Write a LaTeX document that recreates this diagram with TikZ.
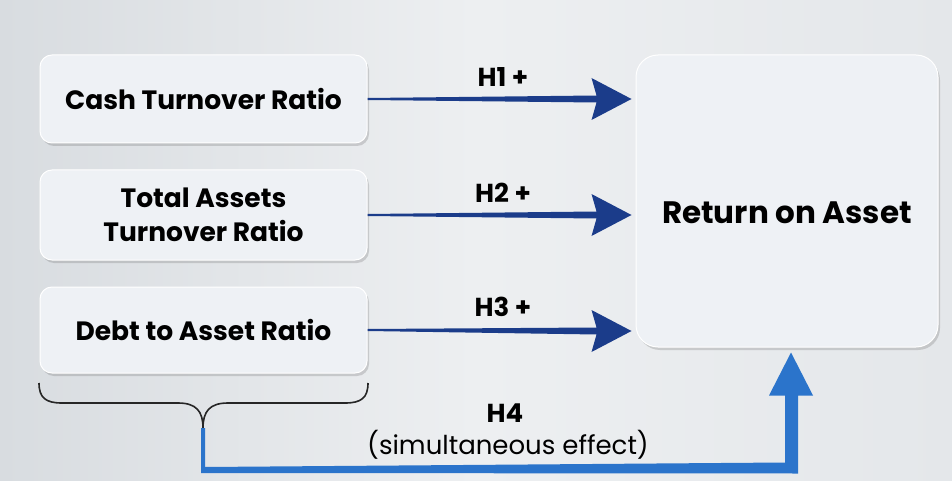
\documentclass[tikz,border=0pt]{standalone}
\usepackage{fontspec}
\setmainfont{Poppins}
\usetikzlibrary{calc,shadows}
\definecolor{navyA}{HTML}{1B3C8A}
\definecolor{blueB}{HTML}{2B74CB}
\definecolor{boxfill}{HTML}{EEF1F5}
\definecolor{bgL}{HTML}{D8DCE0}
\definecolor{bgM}{HTML}{EDEFF1}
\definecolor{bgR}{HTML}{E4E7EA}
\tikzset{
  leftbox/.style={draw=white, line width=1pt, fill=boxfill, rounded corners=12pt,
    minimum width=327pt, align=center, font=\bfseries\fontsize{26.5}{34}\selectfont,
    drop shadow={shadow xshift=2pt, shadow yshift=-3pt, opacity=0.25, fill=black!60}},
  rightbox/.style={draw=white, line width=1pt, fill=boxfill, rounded corners=22pt,
    minimum width=302pt, minimum height=292pt,
    drop shadow={shadow xshift=2pt, shadow yshift=-3pt, opacity=0.25, fill=black!60}},
  hlabel/.style={font=\bfseries\fontsize{26}{30}\selectfont},
  rlabel/.style={font=\bfseries\fontsize{31}{36}\selectfont},
}
\newcommand\taparrow[2]{%
  \fill[navyA] ($(#1.east)+(0,1)$) -- ($(#2)+(-35,3.5)$) -- ($(#2)+(-40,21)$) -- (#2)
    -- ($(#2)+(-40,-21)$) -- ($(#2)+(-35,-3.5)$) -- ($(#1.east)+(0,-1)$) -- cycle;}
\begin{document}
\begin{tikzpicture}[x=1pt,y=1pt]
\shade[left color=bgL, right color=bgR, middle color=bgM] (0,0) rectangle (952,-481);
\useasboundingbox (0,0) rectangle (952,-481);

\node[leftbox, minimum height=88pt] (c1) at (203.5,-99) {Cash Turnover Ratio};
\node[leftbox, minimum height=90pt] (c2) at (203.5,-215) {Total Assets\\Turnover Ratio};
\node[leftbox, minimum height=86pt] (c3) at (203.5,-330) {Debt to Asset Ratio};
\node[rightbox] (r) at (787,-201) {};
\node[rlabel] (rt) at (787,-213) {Return on Asset};

\coordinate (t1) at ($(r.west|-c1.east)+(-4,0)$);
\coordinate (t2) at ($(r.west|-c2.east)+(-4,0)$);
\coordinate (t3) at ($(r.west|-c3.east)+(-4,-1)$);
\taparrow{c1}{t1}
\taparrow{c2}{t2}
\taparrow{c3}{t3}

\node[hlabel] (h1) at (503,-77) {H1 +};
\node[hlabel] (h2) at (503,-193) {H2 +};
\node[hlabel] (h3) at (503,-307) {H3 +};

% brace
\coordinate (bl) at (39,-383);
\coordinate (br) at (368,-383);
\coordinate (bt) at (203,-428);
\draw[black!85, line width=1.6pt]
  (bl) .. controls (39,-398) and (46,-403) .. (62,-403) -- (178,-403)
  .. controls (196,-403) and (203,-411) .. (bt)
  .. controls (203,-411) and (210,-403) .. (228,-403) -- (345,-403)
  .. controls (361,-403) and (368,-398) .. (br);

% H4 connector
\coordinate (ab) at ($(r.south)+(4,-48)$);
\coordinate (at) at ($(r.south-|ab)+(0,-5)$);
\fill[blueB] ($(bt)+(-2,0)$) -- ($(bt)+(-2,-45)$) -- ($(ab)+(7,-78)$) -- ($(ab)+(7,0)$)
  -- ($(ab)+(22,0)$) -- (at) -- ($(ab)+(-22,0)$) -- ($(ab)+(-6,0)$)
  -- ($(ab)+(-6,-67)$) -- ($(bt)+(2,-39)$) -- ($(bt)+(2,0)$) -- cycle;

\node[hlabel] (h4) at (505,-413) {H4};
\node[font=\fontsize{26}{30}\selectfont] (h4b) at (508,-445) {(simultaneous effect)};
\end{tikzpicture}
\end{document}
